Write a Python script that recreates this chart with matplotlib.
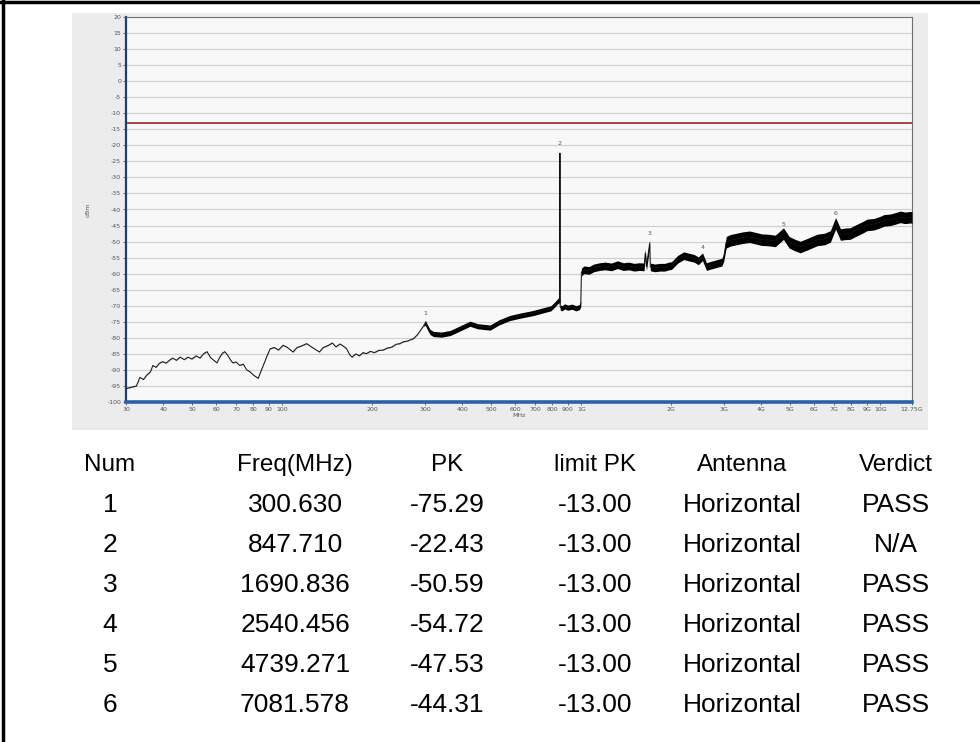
import numpy as np
import matplotlib.pyplot as plt
from matplotlib.patches import Rectangle
from matplotlib.lines import Line2D

# ---------- 数据 ----------
# 频谱迹线 (MHz, dBm)
trace_freq = [30, 31.2, 32.5, 33.4, 34.3, 35.2, 36.2, 36.9, 37.8, 38.8, 39.8, 40.8, 42, 43, 44.2,
              45.5, 47, 48.3, 49.8, 51.5, 53, 54.6, 56, 57.5, 59, 60.4, 61.8, 63, 64.2, 65.6,
              67, 68.2, 70, 72, 74, 76, 78, 80, 83, 86, 89, 91, 94, 97, 100.6, 104, 108.5,
              112, 116, 120.6, 125, 129, 133, 137, 142, 147, 151, 156, 160, 164, 168, 171,
              176, 181, 186, 191, 197, 203, 210, 217, 224, 232, 240, 247, 254, 262, 268, 275,
              283, 290, 296, 300.63, 306, 312, 320, 340, 364, 390, 424, 450, 495, 530, 577,
              630, 688, 740, 790, 817, 840, 846, 847.71, 849.5, 860, 880, 900, 930, 960, 985,
              995, 1000, 1020, 1060, 1100, 1150, 1200, 1260, 1320, 1380, 1440, 1500, 1560,
              1620, 1635, 1650, 1690.836, 1700, 1760, 1830, 1900, 1960, 2000, 2100, 2200,
              2280, 2380, 2460, 2540.456, 2620, 2700, 2800, 2950, 2990, 3050, 3150, 3300,
              3450, 3650, 3850, 4000, 4200, 4450, 4739.271, 4950, 5150, 5390, 5700, 6140,
              6500, 6800, 7081.578, 7350, 7600, 7915, 8300, 8700, 9024, 9500, 10000, 10270,
              10800, 11200, 11640, 12100, 12600, 12750]
trace_dbm = [-95.8, -95.4, -95.0, -92.3, -93.0, -91.6, -90.6, -88.6, -89.2, -87.9, -87.4, -87.9,
             -86.9, -86.3, -87.0, -86.0, -86.8, -86.0, -86.6, -85.6, -86.3, -84.9, -84.3, -86.2,
             -87.0, -87.8, -86.0, -84.8, -84.3, -85.4, -86.8, -87.8, -87.5, -88.6, -88.2, -90.0,
             -90.6, -91.6, -92.6, -89.0, -85.5, -83.4, -83.0, -83.8, -82.3, -83.0, -84.4, -83.0,
             -82.5, -81.8, -82.8, -83.6, -84.4, -83.0, -82.4, -81.6, -82.8, -81.9, -82.6, -83.4,
             -85.3, -86.0, -85.0, -85.6, -84.6, -84.9, -84.2, -84.6, -83.9, -83.8, -83.2, -82.9,
             -82.0, -81.8, -81.2, -81.0, -80.6, -80.2, -79.0, -77.6, -76.4, -75.29, -76.8, -78.2,
             -78.8, -79.0, -78.5, -77.2, -75.6, -76.4, -76.8, -75.2, -73.8, -73.0, -72.3, -71.5,
             -70.8, -69.5, -68.2, -69.0, -22.43, -70.5, -70.8, -70.2, -70.6, -70.3, -70.8, -70.4,
             -69.5, -59.5, -58.8, -59.0, -58.2, -57.8, -57.6, -57.9, -57.2, -57.8, -57.6, -58.0,
             -57.8, -57.9, -53.6, -57.8, -50.59, -57.9, -58.2, -58.0, -58.0, -57.6, -57.5, -55.5,
             -54.4, -54.8, -55.2, -56.0, -54.72, -57.8, -57.4, -57.0, -56.4, -55.0, -50.2, -49.6,
             -49.2, -48.8, -48.5, -49.0, -49.4, -49.5, -49.8, -47.53, -50.2, -51.0, -51.7, -50.8,
             -49.5, -49.2, -48.4, -44.31, -47.8, -47.6, -47.5, -46.5, -45.6, -44.8, -44.6, -43.9,
             -43.4, -43.2, -42.8, -42.3, -42.6, -42.4, -42.5]

# 迹线的噪声带宽 (半宽, dB)，分段
band_edges = [30, 300, 1000, 3000, 12750]
band_half = [0.05, 0.8, 1.2, 1.8]

# 限值
limit_pk = -13.0

# 标记点表格
num = [1, 2, 3, 4, 5, 6]
freq_mhz = [300.630, 847.710, 1690.836, 2540.456, 4739.271, 7081.578]
pk = [-75.29, -22.43, -50.59, -54.72, -47.53, -44.31]
limit = [-13.00, -13.00, -13.00, -13.00, -13.00, -13.00]
antenna = ['Horizontal'] * 6
verdict = ['PASS', 'N/A', 'PASS', 'PASS', 'PASS', 'PASS']

header = ['Num', 'Freq(MHz)', 'PK', 'limit PK', 'Antenna', 'Verdict']

x_ticks = [30, 40, 50, 60, 70, 80, 90, 100, 200, 300, 400, 500, 600, 700, 800, 900,
           1000, 2000, 3000, 4000, 5000, 6000, 7000, 8000, 9000, 10000, 12750]
x_labels = ['30', '40', '50', '60', '70', '80', '90', '100', '200', '300', '400', '500',
            '600', '700', '800', '900', '1G', '2G', '3G', '4G', '5G', '6G', '7G', '8G',
            '9G', '10G', '12.75G']
y_ticks = list(range(20, -105, -5))

# ---------- 画布 ----------
fig = plt.figure(figsize=(9.8, 7.42), dpi=100)
fig.patch.set_facecolor('white')

# 外框 (左、上)
fig.add_artist(Line2D([3 / 980, 3 / 980], [0, 1], color='black', lw=2.5,
                      transform=fig.transFigure))
fig.add_artist(Line2D([0, 1], [1 - 2 / 742, 1 - 2 / 742], color='black', lw=2.5,
                      transform=fig.transFigure))

# 截图面板背景
fig.add_artist(Rectangle((72 / 980, 1 - 430 / 742), (928 - 72) / 980, (430 - 13) / 742,
                         facecolor='#ececec', edgecolor='none', transform=fig.transFigure,
                         zorder=0))

# ---------- 频谱图 ----------
ax = fig.add_axes([126 / 980, 1 - 402 / 742, (912 - 126) / 980, (402 - 17) / 742])
ax.set_facecolor('#f8f8f8')

f = np.array(trace_freq)
v = np.array(trace_dbm)
idx = np.clip(np.searchsorted(band_edges, f, side='right') - 1, 0, len(band_half) - 1)
half = np.array(band_half)[idx]
ax.fill_between(f, v - half, v + half, color='black', lw=0, zorder=3)
ax.plot(f, v, color='#111111', lw=0.7, zorder=3)

# 限值线
ax.axhline(limit_pk, color='#a0474a', lw=1.4, zorder=2)

# 标记编号
for n, fq, p in zip(num, freq_mhz, pk):
    ax.text(fq, p + 2.2, str(n), fontsize=4.5, color='#555555', ha='center', va='bottom',
            zorder=4)

ax.set_xscale('log')
ax.set_xlim(30, 12750)
ax.set_ylim(-100, 20)
ax.set_xticks(x_ticks)
ax.set_xticklabels(x_labels, fontsize=4.5, color='#555555')
ax.minorticks_off()
ax.set_yticks(y_ticks)
ax.set_yticklabels([str(t) for t in y_ticks], fontsize=4.5, color='#555555')
ax.tick_params(axis='both', length=2, width=0.6, pad=1.5, colors='#555555')
ax.set_xlabel('MHz', fontsize=4.5, color='#555555', labelpad=1)
ax.set_ylabel('dBm', fontsize=4.5, color='#555555', labelpad=12)

# 网格
for t in y_ticks[1:-1]:
    ax.axhline(t, color='#cfcfcf', lw=0.8, zorder=1)

ax.spines['left'].set_color('#1f3f6f')
ax.spines['left'].set_linewidth(1.6)
ax.spines['bottom'].set_color('#2a62aa')
ax.spines['bottom'].set_linewidth(2.6)
ax.spines['top'].set_color('#707070')
ax.spines['right'].set_color('#707070')

# ---------- 表格 ----------
col_x = [110, 295, 447, 595, 742, 896]
row_y0 = 465
row_dy = 40

for cx, h in zip(col_x, header):
    fig.text(cx / 980, 1 - row_y0 / 742, h, ha='center', va='center', fontsize=17.5,
             family='Liberation Sans', color='black')

for i in range(len(num)):
    cells = [str(num[i]), f'{freq_mhz[i]:.3f}', f'{pk[i]:.2f}', f'{limit[i]:.2f}',
             antenna[i], verdict[i]]
    y = row_y0 + row_dy * (i + 1)
    for cx, c in zip(col_x, cells):
        fig.text(cx / 980, 1 - y / 742, c, ha='center', va='center', fontsize=19,
                 family='Liberation Sans', color='black')

plt.savefig('out.png', dpi=100)
